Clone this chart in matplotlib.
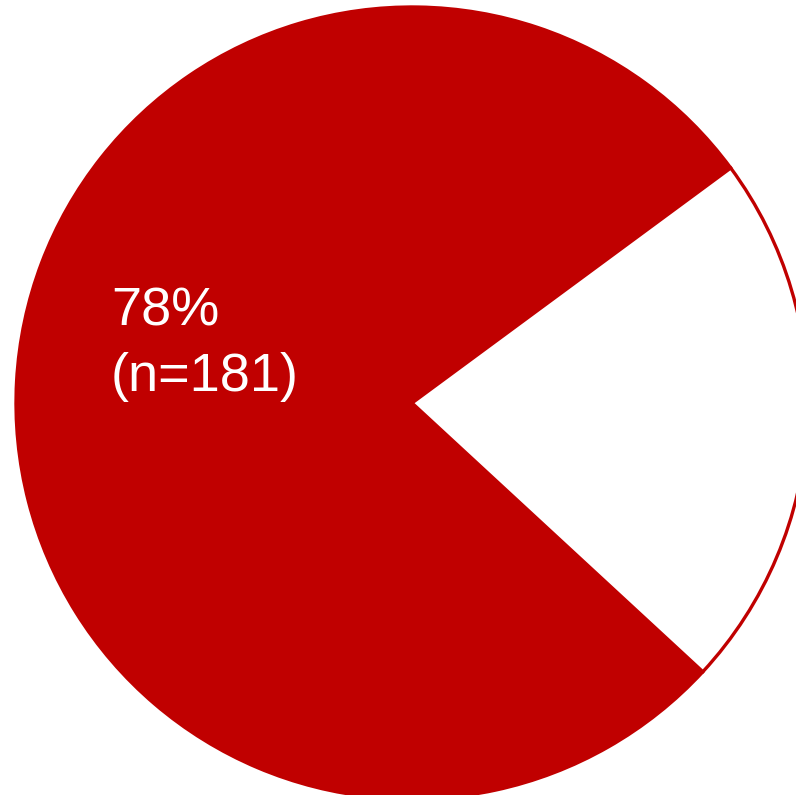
import matplotlib
matplotlib.use("Agg")
import matplotlib.pyplot as plt

labels = ["Yes", "No"]
counts = [181, 51]
pct_labels = ["78%", "(n=181)"]

W, H = 796, 795
fig = plt.figure(figsize=(W / 100, H / 100), dpi=100)
ax = fig.add_axes([0, 0, 1, 1])

cx, cy, r = 412, H - 403, 396
wedges, _ = ax.pie(counts, colors=["#C00000", "white"], startangle=36.4,
                   counterclock=True, center=(cx, cy), radius=r,
                   wedgeprops=dict(edgecolor="#C00000", linewidth=2.4),
                   frame=True)
ax.set_xlim(0, W)
ax.set_ylim(0, H)
ax.set_aspect("equal")
ax.axis("off")

ax.text(111, H - 326, pct_labels[0], color="white", fontsize=39,
        family="Liberation Sans", va="baseline", ha="left")
ax.text(111, H - 391, pct_labels[1], color="white", fontsize=39,
        family="Liberation Sans", va="baseline", ha="left")

fig.savefig("out.png", dpi=100)
